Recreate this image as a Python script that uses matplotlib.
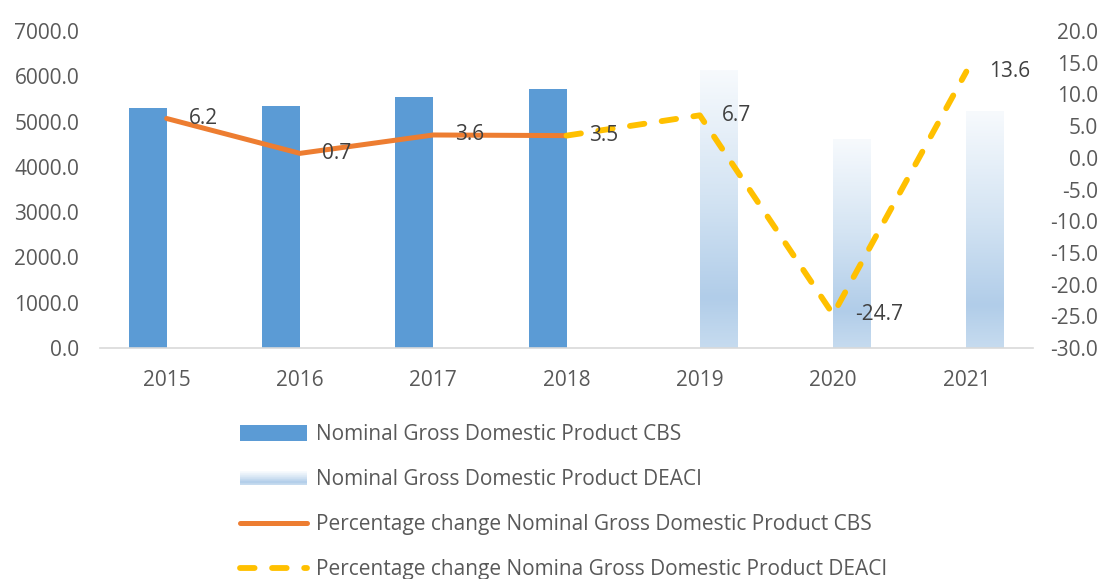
import numpy as np
import matplotlib
matplotlib.use("Agg")
import matplotlib.pyplot as plt
from matplotlib.colors import LinearSegmentedColormap
from matplotlib.patches import Rectangle, Patch
from matplotlib.lines import Line2D
from matplotlib.legend_handler import HandlerBase
from matplotlib.ticker import FormatStrFormatter, MultipleLocator

# data
years = ["2015", "2016", "2017", "2018", "2019", "2020", "2021"]
gdp_cbs = [5300, 5345, 5535, 5730, np.nan, np.nan, np.nan]
gdp_deaci = [np.nan, np.nan, np.nan, np.nan, 6135, 4615, 5230]
pct_cbs = [6.2, 0.7, 3.6, 3.5, np.nan, np.nan, np.nan]
pct_deaci = [np.nan, np.nan, np.nan, 3.5, 6.7, -24.7, 13.6]

labels = ["Nominal Gross Domestic Product CBS",
          "Nominal Gross Domestic Product DEACI",
          "Percentage change Nominal Gross Domestic Product CBS",
          "Percentage change Nomina Gross Domestic Product DEACI"]

BLUE = "#5B9BD5"
ORANGE = "#ED7D31"
YELLOW = "#FFC000"
GREY = "#595959"
LABEL = "#404040"

plt.rcParams['font.family'] = ['Open Sans', 'DejaVu Sans']
FS = 15

grad_cmap = LinearSegmentedColormap.from_list(
    "grad", [(0.0, "#c6dbef"), (0.18, "#b1cde9"), (0.55, "#d4e4f3"), (1.0, "#f7fafd")])

fig = plt.figure(figsize=(11.07, 5.79), dpi=100)
ax = fig.add_axes([100 / 1107, 1 - 348 / 579, 933 / 1107, 317 / 579])
ax2 = ax.twinx()

x = np.arange(len(years))
w = 0.285
ax.bar(x - w / 2, gdp_cbs, w, color=BLUE, zorder=2)
ghost = ax.bar(x + w / 2, gdp_deaci, w, facecolor="none", edgecolor="none", zorder=2)

# gradient fill for DEACI bars
grad = np.linspace(0, 1, 256).reshape(-1, 1)
for p in ghost.patches:
    h = p.get_height()
    if not np.isfinite(h):
        continue
    x0 = p.get_x()
    im = ax.imshow(grad, extent=[x0, x0 + p.get_width(), 0, h], origin="lower",
                   aspect="auto", cmap=grad_cmap, zorder=2)
    im.set_clip_path(p)

ax.set_xlim(-0.5, len(years) - 0.5)
ax.set_ylim(0, 7000)
ax.yaxis.set_major_locator(MultipleLocator(1000))
ax.yaxis.set_major_formatter(FormatStrFormatter("%.1f"))
ax.set_xticks(x)
ax.set_xticklabels(years)

ax2.plot(x, pct_cbs, color=ORANGE, lw=3.6, solid_capstyle="round", zorder=3)
ax2.plot(x, pct_deaci, color=YELLOW, lw=4.2, dashes=(2.5, 3),
         dash_capstyle="round", zorder=3)
ax2.set_ylim(-30, 20)
ax2.yaxis.set_major_locator(MultipleLocator(5))
ax2.yaxis.set_major_formatter(FormatStrFormatter("%.1f"))

# data labels to the right of the points
for xi, v in zip(x, pct_cbs):
    if np.isfinite(v):
        ax2.annotate(f"{v:.1f}", (xi, v), xytext=(16, 0), textcoords="offset points",
                     ha="left", va="center", fontsize=FS, color=LABEL, zorder=4)
for xi, v in zip(x[4:], pct_deaci[4:]):
    ax2.annotate(f"{v:.1f}", (xi, v), xytext=(16, 0), textcoords="offset points",
                 ha="left", va="center", fontsize=FS, color=LABEL, zorder=4)

for a in (ax, ax2):
    for s in a.spines.values():
        s.set_visible(False)
ax.spines["bottom"].set_visible(True)
ax.spines["bottom"].set_color("#d9d9d9")
ax.spines["bottom"].set_linewidth(1.2)

ax.tick_params(axis="x", length=0, pad=16, labelsize=FS, labelcolor=GREY)
ax.tick_params(axis="y", length=0, pad=15, labelsize=FS, labelcolor=GREY)
ax2.tick_params(axis="y", length=0, pad=47, labelsize=FS, labelcolor=GREY)
for t in ax2.get_yticklabels():
    t.set_horizontalalignment("right")


class GradientHandler(HandlerBase):
    def create_artists(self, legend, orig_handle, xdescent, ydescent, width, height,
                       fontsize, trans):
        n = 20
        arts = []
        hh = height * 0.85
        y0 = -ydescent + (height - hh) / 2
        for i in range(n):
            c = grad_cmap(i / (n - 1))
            r = Rectangle((-xdescent, y0 + hh * i / n), width, hh / n + 0.2,
                          facecolor=c, edgecolor="none", transform=trans)
            arts.append(r)
        return arts


h_cbs = Patch(facecolor=BLUE)
h_deaci = Patch(facecolor="#d6e5f4")
h_l1 = Line2D([], [], color=ORANGE, lw=3.6, solid_capstyle="round")
h_l2 = Line2D([], [], color=YELLOW, lw=4.2, dashes=(2.5, 3), dash_capstyle="round")

leg = fig.legend([h_cbs, h_deaci, h_l1, h_l2], labels, loc="upper left",
                 bbox_to_anchor=(240 / 1107, 1 - 424 / 579), frameon=False,
                 fontsize=FS, handlelength=3.2, handleheight=0.8, handletextpad=0.43,
                 labelspacing=1.16, borderpad=0, borderaxespad=0,
                 handler_map={h_deaci: GradientHandler()})
for t in leg.get_texts():
    t.set_color(GREY)

fig.savefig("out.png", dpi=100)
